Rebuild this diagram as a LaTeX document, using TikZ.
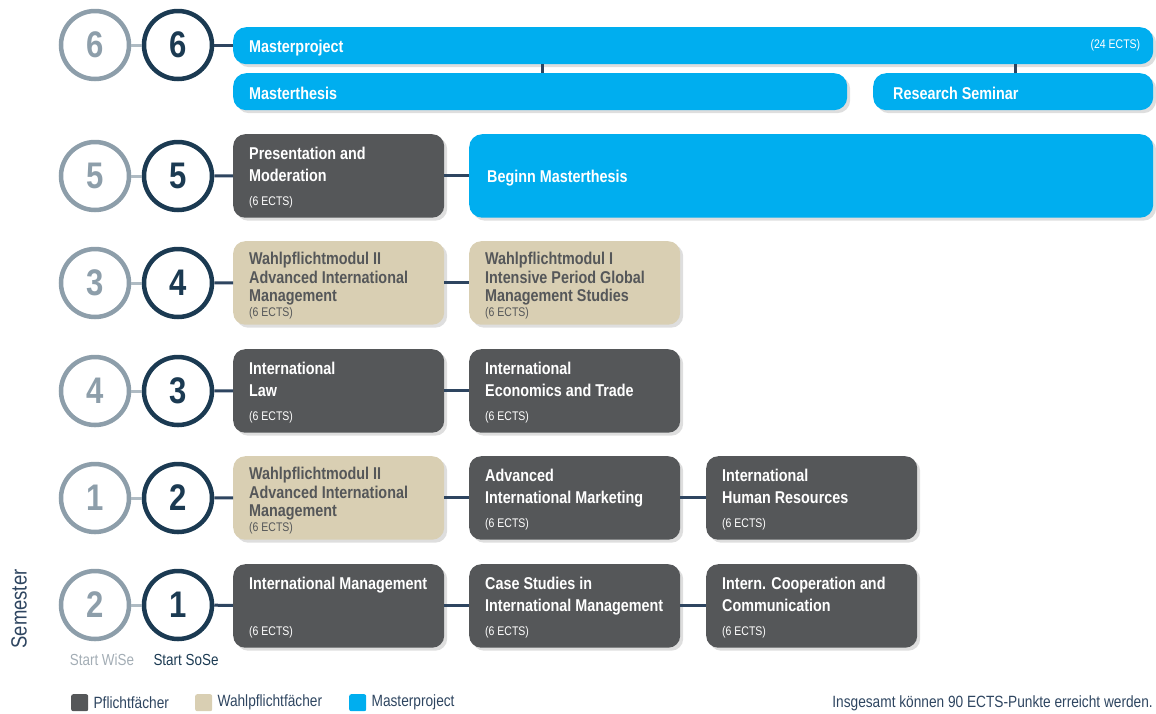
\documentclass[tikz,border=0pt]{standalone}
\usepackage{fontspec}
\setmainfont{Liberation Sans}[FakeStretch=0.84]
\usetikzlibrary{shadows}
\definecolor{dgrey}{HTML}{555759}
\definecolor{beige}{HTML}{D9CFB3}
\definecolor{mblue}{HTML}{00AEEF}
\definecolor{navy}{HTML}{1B3A52}
\definecolor{lgrey}{HTML}{8D9EAA}
\definecolor{conn}{HTML}{2E4560}
\definecolor{wise}{HTML}{A3ADB5}
\begin{document}
\begin{tikzpicture}[x=1pt,y=-1pt,
  shd/.style={drop shadow={shadow xshift=3pt,shadow yshift=-3pt,fill=black!13,opacity=1}},
  mod/.style={rounded corners=12,inner sep=0,minimum width=211,minimum height=83.5,anchor=north west,shd},
  pf/.style={mod,fill=dgrey},
  wp/.style={mod,fill=beige},
  mpb/.style={rounded corners=13,inner sep=0,anchor=north west,fill=mblue,shd},
  ttl/.style={anchor=north west,inner sep=0,align=left,text=white,font=\fontsize{17.1}{22}\selectfont\bfseries},
  ttlb/.style={ttl,text=dgrey,font=\fontsize{17.1}{18.5}\selectfont\bfseries},
  ects/.style={anchor=west,inner sep=0,text=white,font=\fontsize{12.5}{14}\selectfont},
  ectsb/.style={ects,text=dgrey},
  semg/.style={circle,draw=lgrey,line width=4.5,minimum size=68,fill=white,inner sep=0,text=lgrey,font=\fontsize{37}{40}\selectfont\bfseries},
  semd/.style={semg,draw=navy,text=navy},
  gline/.style={draw=lgrey!70,line width=3},
  cline/.style={draw=conn,line width=3},
  leg/.style={rounded corners=2,inner sep=0,minimum size=17,anchor=north west},
  legt/.style={anchor=west,inner sep=0,text=conn,font=\fontsize{16.3}{18}\selectfont}
]
\useasboundingbox (0,0) rectangle (1156,713);

% semester circles
\foreach \g/\d/\y [count=\i] in {6/6/45,5/5/176,3/4/283,4/3/391,1/2/498,2/1/605}{
  \node[semg] (g\i) at (95,\y) {\g};
  \node[semd] (d\i) at (178,\y) {\d};
  \draw[gline] (g\i) -- (d\i);
}

% row 6
\node[mpb,minimum width=920,minimum height=37] (mp) at (233,27) {};
\node[mpb,minimum width=614,minimum height=37] (mt) at (233,73) {};
\node[mpb,minimum width=280,minimum height=37] (rs) at (873,73) {};
\node[ttl,anchor=west] at ([shift={(16,2)}]mp.west) {Masterproject};
\node[ects,anchor=east] at ([xshift=-13]mp.east) {(24 ECTS)};
\node[ttl,anchor=west] at ([shift={(16,2)}]mt.west) {Masterthesis};
\node[ttl,anchor=west] at ([shift={(20,2)}]rs.west) {Research Seminar};
\coordinate (k1) at (542,0);
\coordinate (k2) at (1015,0);
\draw[cline] (mp.south -| k1) -- (mt.north -| k1);
\draw[cline] (mp.south -| k2) -- (rs.north -| k2);
\draw[cline] (d1) -- (mp.west |- d1);

% row 5
\node[pf] (a5) at (233,134) {};
\node[ttl] at ([shift={(16,13)}]a5.north west) {Presentation and\\Moderation};
\node[ects] at ([shift={(16,-16)}]a5.south west) {(6 ECTS)};
\node[mpb,minimum width=684,minimum height=83.5] (b5) at (469,134) {};
\node[ttl,anchor=west] at ([shift={(18,2)}]b5.west) {Beginn Masterthesis};
\draw[cline] (d2) -- (a5);
\draw[cline] (a5) -- (b5);

% row 4
\node[wp] (a4) at (233,241) {};
\node[ttlb] at ([shift={(16,11)}]a4.north west) {Wahlpflichtmodul II\\Advanced International\\Management};
\node[ectsb] at ([shift={(16,-12)}]a4.south west) {(6 ECTS)};
\node[wp] (b4) at (469,241) {};
\node[ttlb] at ([shift={(16,11)}]b4.north west) {Wahlpflichtmodul I\\Intensive Period Global\\Management Studies};
\node[ectsb] at ([shift={(16,-12)}]b4.south west) {(6 ECTS)};
\draw[cline] (d3) -- (a4);
\draw[cline] (a4) -- (b4);

% row 3
\node[pf] (a3) at (233,349) {};
\node[ttl] at ([shift={(16,13)}]a3.north west) {International\\Law};
\node[ects] at ([shift={(16,-16)}]a3.south west) {(6 ECTS)};
\node[pf] (b3) at (469,349) {};
\node[ttl] at ([shift={(16,13)}]b3.north west) {International\\Economics and Trade};
\node[ects] at ([shift={(16,-16)}]b3.south west) {(6 ECTS)};
\draw[cline] (d4) -- (a3);
\draw[cline] (a3) -- (b3);

% row 2
\node[wp] (a2) at (233,456) {};
\node[ttlb] at ([shift={(16,11)}]a2.north west) {Wahlpflichtmodul II\\Advanced International\\Management};
\node[ectsb] at ([shift={(16,-12)}]a2.south west) {(6 ECTS)};
\node[pf] (b2) at (469,456) {};
\node[ttl] at ([shift={(16,13)}]b2.north west) {Advanced\\International Marketing};
\node[ects] at ([shift={(16,-16)}]b2.south west) {(6 ECTS)};
\node[pf] (c2) at (706,456) {};
\node[ttl] at ([shift={(16,13)}]c2.north west) {International\\Human Resources};
\node[ects] at ([shift={(16,-16)}]c2.south west) {(6 ECTS)};
\draw[cline] (d5) -- (a2);
\draw[cline] (a2) -- (b2);
\draw[cline] (b2) -- (c2);

% row 1
\node[pf] (a1) at (233,564) {};
\node[ttl] at ([shift={(16,13)}]a1.north west) {International Management};
\node[ects] at ([shift={(16,-16)}]a1.south west) {(6 ECTS)};
\node[pf] (b1) at (469,564) {};
\node[ttl] at ([shift={(16,13)}]b1.north west) {Case Studies in\\International Management};
\node[ects] at ([shift={(16,-16)}]b1.south west) {(6 ECTS)};
\node[pf] (c1) at (706,564) {};
\node[ttl] at ([shift={(16,13)}]c1.north west) {Intern. Cooperation and\\Communication};
\node[ects] at ([shift={(16,-16)}]c1.south west) {(6 ECTS)};
\draw[cline] (d6) -- (a1);
\draw[cline] (a1) -- (b1);
\draw[cline] (b1) -- (c1);

% labels
\node[inner sep=0,text=wise,font=\fontsize{16}{18}\selectfont] (sw) at (102,660) {Start WiSe};
\node[inner sep=0,text=navy,font=\fontsize{16}{18}\selectfont] (ss) at (186,660) {Start SoSe};
\node[inner sep=0,rotate=90,text=conn,font=\fontsize{22}{24}\selectfont] (sem) at (19,609) {Semester};

% legend
\node[leg,fill=dgrey] (l1) at (71,694) {};
\node[legt] at ([xshift=5]l1.east) {Pflichtfächer};
\node[leg,fill=beige] (l2) at (195,694) {};
\node[legt] at ([xshift=5]l2.east) {Wahlpflichtfächer};
\node[leg,fill=mblue] (l3) at (349,694) {};
\node[legt] at ([xshift=5]l3.east) {Masterproject};
\node[legt,anchor=east] (tot) at (1153,703) {Insgesamt können 90 ECTS-Punkte erreicht werden.};
\end{tikzpicture}
\end{document}
